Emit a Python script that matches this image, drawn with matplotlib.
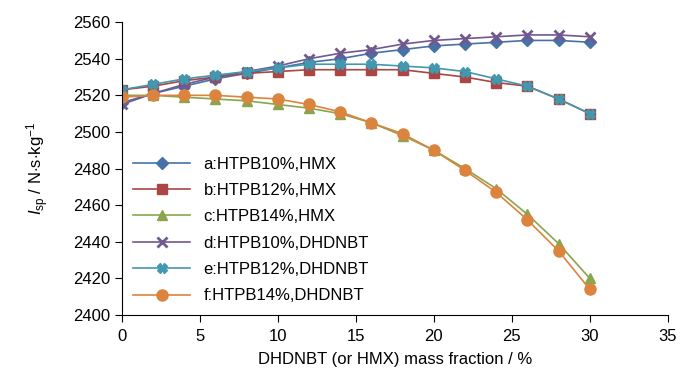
import numpy as np
import matplotlib
matplotlib.use('Agg')
import matplotlib.pyplot as plt

plt.rcParams['font.family'] = ['Liberation Sans', 'DejaVu Sans']
plt.rcParams['mathtext.fontset'] = 'custom'
plt.rcParams['mathtext.rm'] = 'Liberation Sans'
plt.rcParams['mathtext.it'] = 'Liberation Sans:italic'

########## Data
mass_fraction = [0, 2, 4, 6, 8, 10, 12, 14, 16, 18, 20, 22, 24, 26, 28, 30]

a_htpb10_hmx = [2516, 2521, 2525, 2529, 2532, 2535, 2538, 2540, 2543, 2545, 2547, 2548, 2549, 2550, 2550, 2549]
b_htpb12_hmx = [2523, 2525, 2528, 2530, 2532, 2533, 2534, 2534, 2534, 2534, 2532, 2530, 2527, 2525, 2518, 2510]
c_htpb14_hmx = [2520, 2520, 2519, 2518, 2517, 2515, 2513, 2510, 2505, 2498, 2490, 2480, 2469, 2455, 2439, 2420]
d_htpb10_dhdnbt = [2515, 2521, 2526, 2530, 2533, 2536, 2540, 2543, 2545, 2548, 2550, 2551, 2552, 2553, 2553, 2552]
e_htpb12_dhdnbt = [2523, 2526, 2529, 2531, 2533, 2535, 2537, 2537, 2537, 2536, 2535, 2533, 2529, 2525, 2518, 2510]
f_htpb14_dhdnbt = [2519, 2520, 2520, 2520, 2519, 2518, 2515, 2511, 2505, 2499, 2490, 2479, 2467, 2452, 2435, 2414]

labels = ['a:HTPB10%,HMX', 'b:HTPB12%,HMX', 'c:HTPB14%,HMX',
          'd:HTPB10%,DHDNBT', 'e:HTPB12%,DHDNBT', 'f:HTPB14%,DHDNBT']

########## Plot
series = [a_htpb10_hmx, b_htpb12_hmx, c_htpb14_hmx, d_htpb10_dhdnbt, e_htpb12_dhdnbt, f_htpb14_dhdnbt]
colors = ['#4572A7', '#AA4643', '#89A54E', '#71588F', '#4198AF', '#DB843D']
markers = ['D', 's', '^', 'x', 'X', 'o']
sizes = [6, 7, 7, 7, 7, 8]

fig = plt.figure(figsize=(7, 3.75), dpi=100)
ax = fig.add_axes([0.174, 0.16, 0.78, 0.781])

for vals, lab, c, m, s in zip(series, labels, colors, markers, sizes):
	mew = 2 if m == 'x' else 1
	ax.plot(mass_fraction, vals, color=c, marker=m, markersize=s, lw=1.2,
	        markeredgewidth=mew, label=lab)

ax.set_xlim(0, 35)
ax.set_ylim(2400, 2560)
ax.set_xticks(np.arange(0, 36, 5))
ax.set_yticks(np.arange(2400, 2561, 20))
ax.spines['top'].set_visible(False)
ax.spines['right'].set_visible(False)
ax.tick_params(labelsize=12, direction='out', length=5)
ax.tick_params(axis='x', pad=5)
ax.set_xlabel('DHDNBT (or HMX) mass fraction / %', fontsize=12, labelpad=6)
ax.set_ylabel(r'$I_{\rm sp}$ / N$\cdot$s$\cdot$kg$^{-1}$', fontsize=12, labelpad=16)

ax.legend(loc='lower left', bbox_to_anchor=(0.0, 0.0), frameon=False, fontsize=12,
          handlelength=3.4, labelspacing=0.68, borderaxespad=0.3)

fig.savefig('out.png', dpi=100)
